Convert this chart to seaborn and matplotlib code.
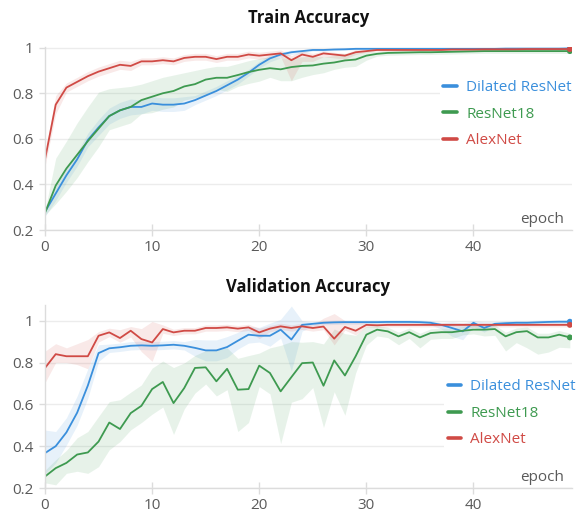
import numpy as np
import pandas as pd
import matplotlib
matplotlib.use("Agg")
import matplotlib.pyplot as plt
import seaborn as sns

# ---------------- data ----------------
epochs = list(range(50))
models = ["Dilated ResNet", "ResNet18", "AlexNet"]
colors = ["#3a8fdc", "#3e9a50", "#d04a45"]

train_dilated = [0.28, 0.36, 0.44, 0.51, 0.595, 0.65, 0.70, 0.725, 0.74, 0.74,
                 0.755, 0.75, 0.75, 0.755, 0.77, 0.79, 0.81, 0.835, 0.86, 0.89,
                 0.925, 0.953, 0.97, 0.98, 0.985, 0.99, 0.99, 0.992, 0.993, 0.995,
                 0.995, 0.995, 0.995, 0.995, 0.995, 0.995, 0.995, 0.995, 0.995, 0.995,
                 0.995, 0.995, 0.995, 0.996, 0.996, 0.996, 0.996, 0.996, 0.996, 0.997]
train_dilated_lo = [0.02, 0.03, 0.03, 0.03, 0.03, 0.035, 0.035, 0.035, 0.035, 0.03,
                    0.03, 0.03, 0.03, 0.03, 0.02, 0.02, 0.02, 0.02, 0.02, 0.015,
                    0.015, 0.015, 0.015, 0.01, 0.01, 0.005, 0.005, 0.005, 0.005, 0.005,
                    0.005, 0.005, 0.005, 0.005, 0.005, 0.005, 0.005, 0.005, 0.005, 0.005,
                    0.005, 0.005, 0.005, 0.005, 0.005, 0.005, 0.005, 0.005, 0.005, 0.005]
train_dilated_hi = [0.02, 0.03, 0.03, 0.03, 0.03, 0.035, 0.035, 0.035, 0.035, 0.03,
                    0.03, 0.03, 0.03, 0.03, 0.02, 0.02, 0.02, 0.02, 0.02, 0.015,
                    0.015, 0.015, 0.01, 0.01, 0.005, 0.005, 0.005, 0.005, 0.005, 0.003,
                    0.003, 0.003, 0.003, 0.003, 0.003, 0.003, 0.003, 0.003, 0.003, 0.003,
                    0.003, 0.003, 0.003, 0.003, 0.003, 0.003, 0.003, 0.003, 0.003, 0.002]

train_resnet18 = [0.275, 0.395, 0.47, 0.53, 0.59, 0.645, 0.70, 0.725, 0.74, 0.77,
                  0.785, 0.80, 0.81, 0.83, 0.84, 0.86, 0.868, 0.868, 0.88, 0.893,
                  0.903, 0.91, 0.905, 0.915, 0.92, 0.922, 0.93, 0.935, 0.944, 0.948,
                  0.965, 0.973, 0.977, 0.978, 0.979, 0.98, 0.98, 0.981, 0.982, 0.983,
                  0.984, 0.985, 0.985, 0.985, 0.985, 0.985, 0.985, 0.985, 0.985, 0.985]
train_resnet18_lo = [0.01, 0.08, 0.10, 0.10, 0.09, 0.08, 0.06, 0.07, 0.07, 0.06,
                     0.07, 0.07, 0.07, 0.06, 0.06, 0.07, 0.05, 0.06, 0.05, 0.05,
                     0.05, 0.04, 0.05, 0.06, 0.05, 0.04, 0.04, 0.03, 0.03, 0.03,
                     0.02, 0.01, 0.01, 0.01, 0.01, 0.01, 0.01, 0.01, 0.01, 0.01,
                     0.01, 0.01, 0.01, 0.01, 0.01, 0.01, 0.01, 0.01, 0.01, 0.01]
train_resnet18_hi = [0.01, 0.12, 0.12, 0.14, 0.15, 0.16, 0.12, 0.10, 0.09, 0.07,
                     0.07, 0.07, 0.07, 0.06, 0.06, 0.05, 0.05, 0.05, 0.05, 0.05,
                     0.05, 0.05, 0.05, 0.04, 0.04, 0.04, 0.03, 0.03, 0.03, 0.03,
                     0.02, 0.01, 0.01, 0.01, 0.01, 0.01, 0.01, 0.01, 0.01, 0.01,
                     0.01, 0.01, 0.01, 0.01, 0.01, 0.01, 0.01, 0.01, 0.01, 0.01]

train_alexnet = [0.51, 0.75, 0.825, 0.85, 0.875, 0.895, 0.91, 0.925, 0.92, 0.94,
                 0.94, 0.945, 0.94, 0.955, 0.96, 0.96, 0.95, 0.96, 0.96, 0.97,
                 0.965, 0.97, 0.975, 0.945, 0.97, 0.96, 0.975, 0.97, 0.965, 0.98,
                 0.985, 0.99, 0.99, 0.99, 0.99, 0.99, 0.99, 0.99, 0.992, 0.992,
                 0.992, 0.993, 0.993, 0.993, 0.993, 0.994, 0.994, 0.994, 0.994, 0.994]
train_alexnet_lo = [0.03, 0.04, 0.02, 0.02, 0.02, 0.02, 0.02, 0.02, 0.02, 0.015,
                    0.015, 0.015, 0.015, 0.015, 0.015, 0.015, 0.015, 0.015, 0.015, 0.015,
                    0.015, 0.015, 0.015, 0.09, 0.03, 0.02, 0.015, 0.015, 0.015, 0.01,
                    0.005, 0.005, 0.005, 0.005, 0.005, 0.005, 0.005, 0.005, 0.005, 0.005,
                    0.005, 0.005, 0.005, 0.005, 0.005, 0.005, 0.005, 0.005, 0.005, 0.005]
train_alexnet_hi = [0.03, 0.04, 0.02, 0.02, 0.02, 0.02, 0.02, 0.02, 0.02, 0.015,
                    0.015, 0.015, 0.015, 0.015, 0.015, 0.015, 0.015, 0.015, 0.015, 0.015,
                    0.015, 0.015, 0.015, 0.02, 0.015, 0.015, 0.01, 0.01, 0.01, 0.01,
                    0.005, 0.005, 0.005, 0.005, 0.005, 0.005, 0.005, 0.005, 0.005, 0.005,
                    0.005, 0.005, 0.005, 0.005, 0.005, 0.005, 0.005, 0.005, 0.005, 0.005]

val_dilated = [0.367, 0.40, 0.466, 0.56, 0.69, 0.845, 0.868, 0.873, 0.88, 0.882,
               0.88, 0.882, 0.885, 0.88, 0.87, 0.858, 0.858, 0.874, 0.904, 0.933,
               0.928, 0.928, 0.957, 0.91, 0.98, 0.985, 0.99, 0.992, 0.993, 0.993,
               0.993, 0.993, 0.994, 0.994, 0.994, 0.993, 0.99, 0.98, 0.965, 0.949,
               0.99, 0.965, 0.985, 0.988, 0.99, 0.99, 0.992, 0.994, 0.995, 0.995]
val_dilated_lo = [0.10, 0.08, 0.06, 0.06, 0.06, 0.04, 0.02, 0.02, 0.02, 0.02,
                  0.02, 0.02, 0.02, 0.02, 0.04, 0.05, 0.05, 0.05, 0.04, 0.04,
                  0.03, 0.05, 0.04, 0.15, 0.03, 0.01, 0.01, 0.01, 0.01, 0.01,
                  0.01, 0.01, 0.01, 0.01, 0.01, 0.01, 0.01, 0.02, 0.04, 0.04,
                  0.02, 0.02, 0.01, 0.01, 0.01, 0.01, 0.01, 0.01, 0.01, 0.01]
val_dilated_hi = [0.11, 0.07, 0.07, 0.08, 0.08, 0.04, 0.02, 0.02, 0.02, 0.02,
                  0.02, 0.02, 0.02, 0.02, 0.04, 0.05, 0.05, 0.05, 0.04, 0.04,
                  0.04, 0.06, 0.05, 0.16, 0.02, 0.01, 0.01, 0.01, 0.01, 0.01,
                  0.01, 0.01, 0.01, 0.01, 0.01, 0.01, 0.01, 0.01, 0.03, 0.04,
                  0.01, 0.03, 0.01, 0.01, 0.01, 0.01, 0.01, 0.01, 0.01, 0.01]

val_resnet18 = [0.255, 0.295, 0.32, 0.36, 0.37, 0.422, 0.513, 0.482, 0.558, 0.593,
                0.673, 0.707, 0.606, 0.678, 0.774, 0.777, 0.71, 0.77, 0.67, 0.673,
                0.785, 0.75, 0.662, 0.73, 0.797, 0.80, 0.689, 0.81, 0.738, 0.83,
                0.933, 0.957, 0.949, 0.925, 0.945, 0.92, 0.941, 0.945, 0.945, 0.952,
                0.957, 0.957, 0.96, 0.925, 0.945, 0.95, 0.92, 0.92, 0.933, 0.92]
val_resnet18_lo = [0.03, 0.08, 0.05, 0.08, 0.10, 0.12, 0.13, 0.06, 0.08, 0.08,
                   0.12, 0.12, 0.15, 0.10, 0.12, 0.08, 0.07, 0.10, 0.20, 0.16,
                   0.10, 0.10, 0.25, 0.12, 0.17, 0.12, 0.20, 0.15, 0.19, 0.08,
                   0.05, 0.03, 0.03, 0.04, 0.03, 0.05, 0.03, 0.03, 0.03, 0.02,
                   0.02, 0.03, 0.03, 0.07, 0.05, 0.08, 0.08, 0.07, 0.06, 0.05]
val_resnet18_hi = [0.03, 0.04, 0.06, 0.08, 0.10, 0.12, 0.10, 0.14, 0.10, 0.10,
                   0.10, 0.10, 0.17, 0.12, 0.06, 0.08, 0.15, 0.10, 0.15, 0.16,
                   0.06, 0.12, 0.22, 0.17, 0.10, 0.10, 0.20, 0.15, 0.20, 0.10,
                   0.04, 0.02, 0.02, 0.02, 0.02, 0.02, 0.02, 0.02, 0.02, 0.02,
                   0.02, 0.02, 0.02, 0.02, 0.02, 0.02, 0.02, 0.02, 0.02, 0.02]

val_alexnet = [0.774, 0.84, 0.83, 0.83, 0.83, 0.928, 0.944, 0.917, 0.952, 0.912,
               0.896, 0.96, 0.944, 0.952, 0.952, 0.965, 0.965, 0.968, 0.962, 0.968,
               0.944, 0.962, 0.973, 0.965, 0.973, 0.965, 0.972, 0.914, 0.97, 0.952,
               0.98, 0.978, 0.98, 0.98, 0.98, 0.98, 0.98, 0.98, 0.98, 0.98,
               0.98, 0.98, 0.98, 0.98, 0.98, 0.98, 0.98, 0.98, 0.98, 0.98]
val_alexnet_lo = [0.07, 0.04, 0.03, 0.04, 0.06, 0.03, 0.02, 0.02, 0.03, 0.06,
                  0.09, 0.02, 0.015, 0.015, 0.015, 0.015, 0.015, 0.015, 0.015, 0.015,
                  0.03, 0.015, 0.015, 0.015, 0.015, 0.015, 0.015, 0.03, 0.015, 0.02,
                  0.01, 0.01, 0.01, 0.01, 0.01, 0.01, 0.01, 0.01, 0.01, 0.01,
                  0.01, 0.01, 0.01, 0.01, 0.01, 0.01, 0.01, 0.01, 0.01, 0.01]
val_alexnet_hi = [0.08, 0.05, 0.04, 0.06, 0.08, 0.02, 0.02, 0.04, 0.02, 0.05,
                  0.10, 0.02, 0.015, 0.015, 0.015, 0.015, 0.015, 0.015, 0.015, 0.015,
                  0.02, 0.015, 0.015, 0.015, 0.015, 0.015, 0.04, 0.12, 0.03, 0.04,
                  0.01, 0.01, 0.01, 0.01, 0.01, 0.01, 0.01, 0.01, 0.01, 0.01,
                  0.01, 0.01, 0.01, 0.01, 0.01, 0.01, 0.01, 0.01, 0.01, 0.01]

x_ticks = [0, 10, 20, 30, 40]
y_ticks = [0.2, 0.4, 0.6, 0.8, 1.0]
y_tick_labels = ["0.2", "0.4", "0.6", "0.8", "1"]


def long_frame(series):
    rows = []
    for name, (mid, lo, hi) in series.items():
        for e, m, l, h in zip(epochs, mid, lo, hi):
            rows.append((name, e, m - l))
            rows.append((name, e, m))
            rows.append((name, e, m + h))
    return pd.DataFrame(rows, columns=["model", "epoch", "acc"])


train_df = long_frame({
    "Dilated ResNet": (train_dilated, train_dilated_lo, train_dilated_hi),
    "ResNet18": (train_resnet18, train_resnet18_lo, train_resnet18_hi),
    "AlexNet": (train_alexnet, train_alexnet_lo, train_alexnet_hi),
})
val_df = long_frame({
    "Dilated ResNet": (val_dilated, val_dilated_lo, val_dilated_hi),
    "ResNet18": (val_resnet18, val_resnet18_lo, val_resnet18_hi),
    "AlexNet": (val_alexnet, val_alexnet_lo, val_alexnet_hi),
})
train_last = pd.DataFrame({"model": models, "epoch": [epochs[-1]] * 3,
                           "acc": [train_dilated[-1], train_resnet18[-1], train_alexnet[-1]]})
val_last = pd.DataFrame({"model": models, "epoch": [epochs[-1]] * 3,
                         "acc": [val_dilated[-1], val_resnet18[-1], val_alexnet[-1]]})

# ---------------- style ----------------
sns.set_theme(style="white")
plt.rcParams["font.family"] = ["Open Sans", "DejaVu Sans"]
palette = dict(zip(models, colors))

W, H = 579, 514
fig = plt.figure(figsize=(W / 100, H / 100), dpi=100)

def frac_box(left, top, right, bottom):
    return [left / W, 1 - bottom / H, (right - left) / W, (bottom - top) / H]

ax1 = fig.add_axes(frac_box(45, 47, 572, 230))
ax2 = fig.add_axes(frac_box(45, 305, 572, 488))

specs = [
    (ax1, train_df, train_last, "Train Accuracy", (0.2, 1.003), 18, (0.75, 0.835)),
    (ax2, val_df, val_last, "Validation Accuracy", (0.2, 1.075), 287, (0.758, 0.61)),
]

for ax, df, last, title, ylim, title_y, leg_anchor in specs:
    sns.lineplot(data=df, x="epoch", y="acc", hue="model", hue_order=models,
                 palette=palette, estimator="median", errorbar=("pi", 100),
                 err_kws={"alpha": 0.12, "linewidth": 0}, linewidth=1.3, ax=ax,
                 legend=False)
    sns.scatterplot(data=last, x="epoch", y="acc", hue="model", hue_order=models,
                    palette=palette, s=18, linewidth=0, ax=ax, legend=False, zorder=5)
    ax.set_xlim(0, 49.2)
    ax.set_ylim(*ylim)
    ax.set_xticks(x_ticks)
    ax.set_yticks(y_ticks)
    ax.set_yticklabels(y_tick_labels)
    ax.set_xlabel("")
    ax.set_ylabel("")
    ax.grid(axis="y", color="#ececec", linewidth=1.0)
    ax.grid(axis="x", visible=False)
    for s in ["top", "right"]:
        ax.spines[s].set_visible(False)
    for s in ["left", "bottom"]:
        ax.spines[s].set_color("#dcdcdc")
        ax.spines[s].set_linewidth(1.0)
    ax.tick_params(axis="y", which="major", direction="out", length=4, width=1,
                   color="#dcdcdc", labelsize=11, labelcolor="#5a5a5a", pad=4, left=True)
    ax.tick_params(axis="x", which="major", direction="inout", length=8, width=1,
                   color="#dcdcdc", labelsize=11, labelcolor="#5a5a5a", pad=3, bottom=True)
    ax.text(0.985, 0.06, "epoch", transform=ax.transAxes, ha="right", va="center",
            fontsize=11, color="#5a5a5a")
    fig.text(308.5 / W, 1 - title_y / H, title, ha="center", va="center",
             fontsize=12, fontweight="bold", color="#111111")
    handles = [plt.Line2D([], [], color=c, linewidth=2.6) for c in colors]
    leg = ax.legend(handles, models, loc="upper left", bbox_to_anchor=leg_anchor,
                    frameon=True, fontsize=11, handlelength=0.9, handletextpad=0.6,
                    labelspacing=0.75, borderpad=0.2, borderaxespad=0)
    leg.get_frame().set_facecolor("white")
    leg.get_frame().set_edgecolor("none")
    leg.get_frame().set_alpha(1.0)
    for t, c in zip(leg.get_texts(), colors):
        t.set_color(c)

fig.savefig("out.png", dpi=100)
